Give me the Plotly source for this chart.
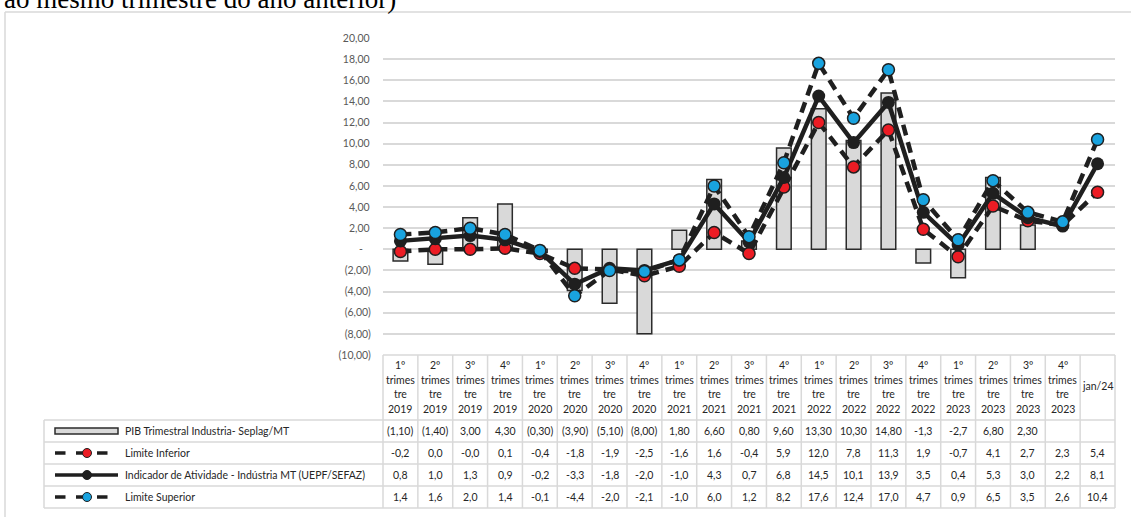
import plotly.graph_objects as go

# ---------------- data ----------------
quarters = ["1º", "2º", "3º", "4º"] * 5
years = ["2019"] * 4 + ["2020"] * 4 + ["2021"] * 4 + ["2022"] * 4 + ["2023"] * 4
categories = [f"{q} trimestre {y}" for q, y in zip(quarters, years)] + ["jan/24"]

pib = [-1.1, -1.4, 3.0, 4.3, -0.3, -3.9, -5.1, -8.0, 1.8, 6.6, 0.8, 9.6,
       13.3, 10.3, 14.8, -1.3, -2.7, 6.8, 2.3, None, None]
pib_labels = ["(1,10)", "(1,40)", "3,00", "4,30", "(0,30)", "(3,90)", "(5,10)", "(8,00)",
              "1,80", "6,60", "0,80", "9,60", "13,30", "10,30", "14,80", "-1,3", "-2,7",
              "6,80", "2,30", "", ""]
lim_inf = [-0.2, 0.0, -0.0, 0.1, -0.4, -1.8, -1.9, -2.5, -1.6, 1.6, -0.4, 5.9,
           12.0, 7.8, 11.3, 1.9, -0.7, 4.1, 2.7, 2.3, 5.4]
indicador = [0.8, 1.0, 1.3, 0.9, -0.2, -3.3, -1.8, -2.0, -1.0, 4.3, 0.7, 6.8,
             14.5, 10.1, 13.9, 3.5, 0.4, 5.3, 3.0, 2.2, 8.1]
lim_sup = [1.4, 1.6, 2.0, 1.4, -0.1, -4.4, -2.0, -2.1, -1.0, 6.0, 1.2, 8.2,
           17.6, 12.4, 17.0, 4.7, 0.9, 6.5, 3.5, 2.6, 10.4]

series_names = ["PIB Trimestral Industria- Seplag/MT",
                "Limite Inferior",
                "Indicador de Atividade - Indústria MT (UEPF/SEFAZ)",
                "Limite Superior"]

ytick_vals = [20, 18, 16, 14, 12, 10, 8, 6, 4, 2, 0, -2, -4, -6, -8, -10]
ytick_text = ["20,00\u2009", "18,00\u2009", "16,00\u2009", "14,00\u2009", "12,00\u2009",
              "10,00\u2009", "8,00\u2009", "6,00\u2009", "4,00\u2009", "2,00\u2009",
              "-\u00a0\u00a0\u00a0", "(2,00)", "(4,00)", "(6,00)", "(8,00)", "(10,00)"]

title_text = "ao mesmo trimestre do ano anterior)"

# ---------------- layout geometry ----------------
W, H = 1131, 517
L, R, T, B = 383, 16, 38, 162
PW, PH = W - L - R, H - T - B

def px(x):
    return (x - L) / PW

def py(y):
    return (H - B - y) / PH

FONT = "Lato, 'Open Sans', sans-serif"
TXT = "#262626"
GRID = "#d9d9d9"
RED = "#ec1c24"
BLUE = "#19a3df"
DARK = "#1f1f1f"

n = len(categories)
xs = list(range(n))

fig = go.Figure()
fig.add_trace(go.Bar(x=xs, y=pib, width=0.42, name=series_names[0],
                     marker=dict(color="#d9d9d9", line=dict(color="#2b2b2b", width=1.5))))
fig.add_trace(go.Scatter(x=xs, y=lim_inf, mode="lines+markers", name=series_names[1],
                         line=dict(color=DARK, width=4.5, dash="11px,7px"),
                         marker=dict(color=RED, size=12, line=dict(color=DARK, width=1.5))))
fig.add_trace(go.Scatter(x=xs, y=indicador, mode="lines+markers", name=series_names[2],
                         line=dict(color=DARK, width=4.5),
                         marker=dict(color=DARK, size=13)))
fig.add_trace(go.Scatter(x=xs, y=lim_sup, mode="lines+markers", name=series_names[3],
                         line=dict(color=DARK, width=4.5, dash="11px,7px"),
                         marker=dict(color=BLUE, size=12, line=dict(color=DARK, width=1.5))))

shapes = []
annotations = []

# outer chart border (left and top)
shapes.append(dict(type="line", xref="paper", yref="paper", x0=px(5), x1=px(5),
                   y0=py(12), y1=py(H + 5), line=dict(color=GRID, width=1.5)))
shapes.append(dict(type="line", xref="paper", yref="paper", x0=px(5), x1=px(W + 5),
                   y0=py(12), y1=py(12), line=dict(color=GRID, width=1.5)))

# data table grid
colw = PW / n
hlines = [(355, L), (420, 44), (442, 44), (464, 44), (486, 44), (508, 44)]
for yy, x0 in hlines:
    shapes.append(dict(type="line", xref="paper", yref="paper", x0=px(x0), x1=px(L + PW),
                       y0=py(yy), y1=py(yy), line=dict(color=GRID, width=1.5)))
for k in range(n + 1):
    xx = L + k * colw
    shapes.append(dict(type="line", xref="paper", yref="paper", x0=px(xx), x1=px(xx),
                       y0=py(355), y1=py(508), line=dict(color=GRID, width=1.5)))
shapes.append(dict(type="line", xref="paper", yref="paper", x0=px(44), x1=px(44),
                   y0=py(420), y1=py(508), line=dict(color=GRID, width=1.5)))

# header text
header_y = [365, 380, 394, 409]
for i, cat in enumerate(categories):
    if cat == "jan/24":
        annotations.append(dict(xref="x", yref="paper", x=i, y=py(386), text=cat,
                                showarrow=False, xanchor="center", yanchor="middle",
                                font=dict(family=FONT, size=10.5, color=TXT)))
    else:
        q, _, y = cat.split(" ")
        for line_txt, yy in zip([q, "trimes", "tre", y], header_y):
            annotations.append(dict(xref="x", yref="paper", x=i, y=py(yy), text=line_txt,
                                    showarrow=False, xanchor="center", yanchor="middle",
                                    font=dict(family=FONT, size=10.5, color=TXT)))

def fmt1(v):
    return format(v, ".1f").replace(".", ",")

row_y = [431, 453, 475, 497]
rows = [pib_labels, [fmt1(v) for v in lim_inf], [fmt1(v) for v in indicador],
        [fmt1(v) for v in lim_sup]]
for r, yy in zip(rows, row_y):
    for i, t in enumerate(r):
        if t:
            annotations.append(dict(xref="x", yref="paper", x=i, y=py(yy), text=t,
                                    showarrow=False, xanchor="center", yanchor="middle",
                                    font=dict(family=FONT, size=10.5, color=TXT)))

# legend keys + names
for name, yy in zip(series_names, row_y):
    annotations.append(dict(xref="paper", yref="paper", x=px(123), y=py(yy), text=name,
                            showarrow=False, xanchor="left", yanchor="middle",
                            font=dict(family=FONT, size=10.5, color=TXT)))

shapes.append(dict(type="rect", xref="paper", yref="paper", x0=px(55), x1=px(118),
                   y0=py(428), y1=py(434), fillcolor="#d9d9d9",
                   line=dict(color="#2b2b2b", width=1.5)))
for yy, mcol, dash in [(row_y[1], RED, "dash"), (row_y[2], DARK, "solid"), (row_y[3], BLUE, "dash")]:
    shapes.append(dict(type="line", xref="paper", yref="paper", x0=px(55), x1=px(118),
                       y0=py(yy), y1=py(yy), line=dict(color=DARK, width=3.5, dash=dash)))
    shapes.append(dict(type="circle", xref="paper", yref="paper", x0=px(82.5), x1=px(91.5),
                       y0=py(yy - 4.5), y1=py(yy + 4.5), fillcolor=mcol,
                       line=dict(color=DARK, width=1)))

# title line (cut off by the top edge, as in the reference)
annotations.append(dict(xref="paper", yref="paper", x=px(2), y=py(16), text=title_text,
                        showarrow=False, xanchor="left", yanchor="bottom",
                        font=dict(family="'Liberation Serif', 'Times New Roman', serif",
                                  size=27, color="#000000")))

fig.update_layout(
    width=W, height=H,
    margin=dict(l=L, r=R, t=T, b=B, pad=0),
    paper_bgcolor="white", plot_bgcolor="white",
    showlegend=False,
    shapes=shapes,
    annotations=annotations,
    font=dict(family=FONT, color=TXT),
    xaxis=dict(range=[-0.5, n - 0.5], showticklabels=False, showgrid=False,
               zeroline=False, showline=False, fixedrange=True),
    yaxis=dict(range=[-10, 20], tickvals=ytick_vals, ticktext=ytick_text,
               showgrid=True, gridcolor=GRID, gridwidth=1.5, zeroline=False,
               showline=False, ticks="outside", ticklen=9, tickcolor="rgba(0,0,0,0)",
               tickfont=dict(family=FONT, size=10.5, color="#595959")),
)

fig.write_html("out.html", config={"displayModeBar": False},
               post_script="document.body.style.margin='0';document.body.style.overflow='hidden';")
